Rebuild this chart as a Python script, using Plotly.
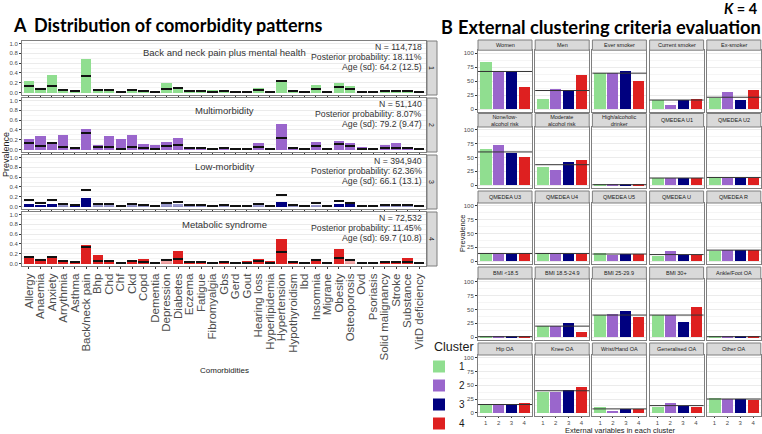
import plotly.graph_objects as go

W, H = 762, 434

# ---- panel A data: prevalence of each comorbidity (0-1) ----
comorbidities = [
    "Allergy", "Anaemia", "Anxiety", "Arrythmia", "Asthma", "Back/neck pain", "Bhp",
    "Chd", "Chf", "Ckd", "Copd", "Dementia", "Depression", "Diabetes", "Eczema",
    "Fatigue", "Fibromyalgia", "Gbs", "Gerd", "Gout", "Hearing loss", "Hyperlipidemia",
    "Hypertension", "Hypothyroidism", "Ibd", "Insomnia", "Migrane", "Obesity",
    "Osteoporosis", "Ovd", "Psoriasis", "Solid malignancy", "Stroke", "Substance",
    "VitD deficiency",
]
overall_prev = [0.13, 0.08, 0.13, 0.05, 0.03, 0.34, 0.05, 0.05, 0.02, 0.05, 0.04, 0.02,
                0.08, 0.09, 0.04, 0.03, 0.02, 0.03, 0.01, 0.02, 0.06, 0.02, 0.24, 0.04,
                0.02, 0.07, 0.02, 0.12, 0.07, 0.01, 0.01, 0.03, 0.03, 0.04, 0.02]
prev_c1 = [0.24, 0.10, 0.35, 0.05, 0.03, 0.69, 0.05, 0.05, 0.02, 0.05, 0.04, 0.02,
           0.19, 0.09, 0.05, 0.06, 0.05, 0.04, 0.01, 0.02, 0.09, 0.02, 0.25, 0.04,
           0.02, 0.15, 0.03, 0.20, 0.13, 0.01, 0.01, 0.03, 0.03, 0.04, 0.02]
prev_c2 = [0.21, 0.28, 0.14, 0.29, 0.03, 0.41, 0.10, 0.28, 0.21, 0.30, 0.12, 0.09,
           0.15, 0.23, 0.04, 0.04, 0.02, 0.06, 0.01, 0.04, 0.14, 0.02, 0.53, 0.05,
           0.03, 0.16, 0.02, 0.17, 0.14, 0.06, 0.01, 0.09, 0.14, 0.05, 0.02]
prev_c3 = [0.06, 0.04, 0.05, 0.04, 0.03, 0.18, 0.04, 0.04, 0.01, 0.04, 0.03, 0.01,
           0.05, 0.05, 0.04, 0.03, 0.02, 0.03, 0.01, 0.02, 0.04, 0.02, 0.10, 0.04,
           0.02, 0.04, 0.02, 0.05, 0.07, 0.01, 0.01, 0.02, 0.02, 0.03, 0.02]
prev_c4 = [0.13, 0.08, 0.11, 0.06, 0.03, 0.38, 0.17, 0.08, 0.02, 0.07, 0.09, 0.02,
           0.08, 0.25, 0.04, 0.02, 0.01, 0.04, 0.01, 0.06, 0.09, 0.05, 0.49, 0.04,
           0.02, 0.06, 0.02, 0.29, 0.05, 0.02, 0.01, 0.05, 0.04, 0.12, 0.02]

pattern_names = ["Back and neck pain plus mental health", "Multimorbidity",
                 "Low-morbidity", "Metabolic syndrome"]
pattern_n = ["114,718", "51,140", "394,940", "72,532"]
pattern_post = ["18.11%", "8.07%", "62.36%", "11.45%"]
pattern_age = ["64.2 (12.5)", "79.2 (9.47)", "66.1 (13.1)", "69.7 (10.8)"]

# ---- panel B data: external variables (%) ----
ext_vars = ["Women", "Men", "Ever smoker", "Current smoker", "Ex-smoker",
            "None/low-<br>alcohol risk", "Moderate<br>alcohol risk", "High/alcoholic<br>drinker",
            "QMEDEA U1", "QMEDEA U2", "QMEDEA U3", "QMEDEA U4", "QMEDEA U5", "QMEDEA U",
            "QMEDEA R", "BMI <18.5", "BMI 18.5-24.9", "BMI 25-29.9", "BMI 30+",
            "Ankle/Foot OA", "Hip OA", "Knee OA", "Wrist/Hand OA", "Generalised OA", "Other OA"]
ext_overall = [67, 33, 64, 16, 21, 60, 37, 1, 13, 14, 14, 14, 13, 12, 20,
               1, 20, 40, 40, 1, 15, 40, 7, 13, 25]
ext_c1 = [83, 17, 64, 16, 20, 65, 33, 0.5, 13, 14, 14, 15, 14, 10, 18,
          0.8, 20, 40, 40, 0.5, 15, 38, 11, 11, 26]
ext_c2 = [65, 35, 64, 6, 30, 72, 27, 0.5, 13, 13, 13, 13, 12, 18, 20,
          0.8, 20, 41, 40, 0.5, 15, 38, 4, 17, 25]
ext_c3 = [68, 33, 68, 15, 16, 58, 41, 0.5, 13, 13, 13, 13, 13, 11, 20,
          0.8, 26, 47, 27, 0.5, 15, 41, 6, 13, 25]
ext_c4 = [39, 61, 49, 17, 33, 51, 46, 1.5, 13, 13, 15, 13, 13, 11, 21,
          0.8, 10, 36, 55, 0.5, 17, 46, 6, 10, 23]

clusters = [1, 2, 3, 4]
cluster_colors = ["#90de90", "#9a66cc", "#00007f", "#de2020"]
# bars drawn faded in panel A
faded = {
    3: {"Arrythmia", "Bhp", "Chd", "Chf", "Ckd", "Copd", "Dementia", "Depression",
        "Diabetes", "Eczema", "Fatigue", "Fibromyalgia", "Gbs", "Gerd", "Gout",
        "Hearing loss", "Hyperlipidemia", "Hypothyroidism", "Ibd", "Insomnia",
        "Migrane", "Ovd", "Psoriasis", "Solid malignancy", "Stroke", "Substance",
        "VitD deficiency"},
    4: {"Depression", "Osteoporosis"},
}


def fx(p):
    return p / W


def fy(p):
    return 1 - p / H


def note(x, y, text, size, color="#1a1a1a", family="Liberation Sans",
         xanchor="center", angle=0):
    """paper annotation placed in pixel coordinates"""
    return dict(x=fx(x), y=fy(y), xref="paper", yref="paper", text=text,
                showarrow=False, xanchor=xanchor, yanchor="middle", textangle=angle,
                font=dict(size=size, color=color, family=family))


GRID = "#ebebeb"
BORDER = "#7f7f7f"
TICK = "#4d4d4d"
FONT = "Liberation Sans"

fig = go.Figure()
layout = {}
shapes = []
annots = []

# ---------------- panel A ----------------
A_LEFT, A_RIGHT = 22, 426
A_TOPS = [41, 98, 155, 212]
A_H = 54
a_prev = [prev_c1, prev_c2, prev_c3, prev_c4]

for i in range(4):
    n = i + 1
    top, bot = A_TOPS[i], A_TOPS[i] + A_H
    xk = "xaxis" if n == 1 else f"xaxis{n}"
    yk = "yaxis" if n == 1 else f"yaxis{n}"
    layout[xk] = dict(
        domain=[fx(A_LEFT), fx(A_RIGHT)], anchor=f"y{n}", type="category",
        categoryorder="array", categoryarray=comorbidities, range=[-0.6, 34.6],
        tickmode="array", tickvals=comorbidities, ticktext=comorbidities,
        showticklabels=(i == 3), tickangle=-90, ticks="outside", ticklen=2,
        tickcolor="#333", tickfont=dict(size=11.5, color=TICK, family=FONT),
        showgrid=False, showline=True, mirror=True, linecolor=BORDER, linewidth=1,
        zeroline=False, fixedrange=True, automargin=False,
    )
    layout[yk] = dict(
        domain=[fy(bot), fy(top)], anchor=f"x{n}", range=[-0.05, 1.05],
        tickvals=[0, 0.2, 0.4, 0.6, 0.8, 1.0],
        ticktext=["0.0", "0.2", "0.4", "0.6", "0.8", "1.0"],
        ticks="outside", ticklen=2, tickcolor="#333",
        tickfont=dict(size=6, color=TICK, family=FONT),
        showgrid=True, gridcolor=GRID, gridwidth=0.8,
        minor=dict(dtick=0.1, showgrid=True, gridcolor="#f5f5f5", gridwidth=0.5),
        showline=True, mirror=True, linecolor=BORDER, linewidth=1,
        zeroline=False, fixedrange=True, automargin=False,
    )
    fade = faded.get(clusters[i], set())
    fig.add_trace(go.Bar(
        x=comorbidities, y=a_prev[i], width=0.9,
        marker=dict(color=cluster_colors[i], line_width=0,
                    opacity=[0.4 if c in fade else 1.0 for c in comorbidities]),
        xaxis=f"x{n}", yaxis=f"y{n}", showlegend=False,
        hovertemplate="%{x}: %{y:.2f}<extra>Cluster " + str(clusters[i]) + "</extra>",
    ))
    # overall prevalence marker
    fig.add_trace(go.Bar(
        x=comorbidities, y=[0.028] * len(comorbidities),
        base=[v - 0.014 for v in overall_prev], width=0.9,
        marker=dict(color="#111111", line_width=0),
        xaxis=f"x{n}", yaxis=f"y{n}", showlegend=False, hoverinfo="skip",
    ))
    # right strip
    shapes.append(dict(type="rect", xref="paper", yref="paper",
                       x0=fx(A_RIGHT + 1), x1=fx(A_RIGHT + 11), y0=fy(bot), y1=fy(top),
                       fillcolor="#d9d9d9", line=dict(color=BORDER, width=1)))
    annots.append(note(A_RIGHT + 6, (top + bot) / 2, str(clusters[i]), 7, angle=90))
    annots.append(note((A_LEFT + A_RIGHT) / 2, top + 12, pattern_names[i], 9.5, "#333333"))
    for k, txt in enumerate([f"N = {pattern_n[i]}",
                             f"Posterior probability: {pattern_post[i]}",
                             f"Age (sd): {pattern_age[i]}"]):
        annots.append(note(A_RIGHT - 2, top + 6 + 10 * k, txt, 8.7, "#333333",
                           xanchor="right"))

annots += [
    note(11, 25, "<b>A</b>", 18, "black", "Lato", "left"),
    note(32, 25, "<b>Distribution of comorbidity patterns</b>", 18, "black", "Lato", "left"),
    note(6, 155, "Prevalence", 9, angle=-90),
    note(224, 370, "Comorbidities", 8),
]

# ---------------- panel B ----------------
B_COLS = [478 + 57.2 * j for j in range(5)]
B_W = 54
B_ROWS = [(40, 50.2, 111.8), (113.5, 127, 188), (191, 203, 264),
          (267, 279, 340), (343, 355, 415.5)]
b_prev = [ext_c1, ext_c2, ext_c3, ext_c4]

for k, name in enumerate(ext_vars):
    r, c = divmod(k, 5)
    n = 5 + k
    s_top, top, bot = B_ROWS[r]
    left = B_COLS[c]
    layout[f"xaxis{n}"] = dict(
        domain=[fx(left), fx(left + B_W)], anchor=f"y{n}", range=[0.4, 4.6],
        tickvals=clusters, showticklabels=(r == 4), ticks="outside" if r == 4 else "",
        ticklen=1.5, tickcolor="#333", tickfont=dict(size=6, color=TICK, family=FONT),
        showgrid=False, showline=True, mirror=True, linecolor=BORDER, linewidth=1,
        zeroline=False, fixedrange=True, automargin=False,
    )
    layout[f"yaxis{n}"] = dict(
        domain=[fy(bot), fy(top)], anchor=f"x{n}", range=[-5, 105],
        tickvals=[0, 25, 50, 75, 100], showticklabels=(c == 0),
        ticks="outside" if c == 0 else "", ticklen=2, tickcolor="#333",
        tickfont=dict(size=6, color=TICK, family=FONT),
        showgrid=True, gridcolor=GRID, gridwidth=0.8,
        minor=dict(dtick=12.5, showgrid=True, gridcolor="#f5f5f5", gridwidth=0.5),
        showline=True, mirror=True, linecolor=BORDER, linewidth=1,
        zeroline=False, fixedrange=True, automargin=False,
    )
    for ci in range(4):
        fig.add_trace(go.Bar(
            x=[clusters[ci]], y=[b_prev[ci][k]], width=0.9,
            marker=dict(color=cluster_colors[ci], line_width=0),
            xaxis=f"x{n}", yaxis=f"y{n}", showlegend=False,
            hovertemplate=name.replace("<br>", " ") + ": %{y}%<extra>Cluster "
            + str(clusters[ci]) + "</extra>",
        ))
    shapes.append(dict(type="line", xref=f"x{n} domain", yref=f"y{n}", x0=0, x1=1,
                       y0=ext_overall[k], y1=ext_overall[k],
                       line=dict(color="#333333", width=1)))
    shapes.append(dict(type="rect", xref="paper", yref="paper",
                       x0=fx(left), x1=fx(left + B_W), y0=fy(top), y1=fy(s_top),
                       fillcolor="#d9d9d9", line=dict(color=BORDER, width=1)))
    annots.append(note(left + B_W / 2, (s_top + top) / 2, name, 5.5))

annots += [
    note(439, 27, "<b>B</b>", 18, "black", "Lato", "left"),
    note(456, 27, "<b>External clustering criteria evaluation</b>", 18.3, "black", "Lato", "left"),
    note(760, 8.5, "<b><i>K</i> = 4</b>", 14.5, "black", "Lato", "right"),
    note(463, 233, "Prevalence", 7.5, angle=-90),
    note(620, 430.5, "External variables in each cluster", 7.5),
    note(432, 347, "Cluster", 12.5, xanchor="left"),
]

# legend keys
for ci in range(4):
    fig.add_trace(go.Scatter(
        x=[None], y=[None], mode="markers", name=str(clusters[ci]),
        marker=dict(symbol="square", size=16, color=cluster_colors[ci]),
        showlegend=True, hoverinfo="skip",
    ))

fig.update_layout(
    **layout,
    width=W, height=H, autosize=False,
    margin=dict(l=0, r=0, t=0, b=0, autoexpand=False),
    barmode="overlay", bargap=0,
    paper_bgcolor="white", plot_bgcolor="white",
    shapes=shapes, annotations=annots,
    showlegend=True,
    legend=dict(
        x=fx(419), y=fy(352), xanchor="left", yanchor="top",
        font=dict(size=10, color="#1a1a1a", family=FONT),
        bgcolor="rgba(0,0,0,0)", tracegroupgap=0, itemsizing="constant",
    ),
    font=dict(family=FONT),
)

# drop the default page margin so the figure sits at the window's corner
fig.write_html("out.html", config={"displayModeBar": False},
               post_script="document.body.style.margin='0';")
